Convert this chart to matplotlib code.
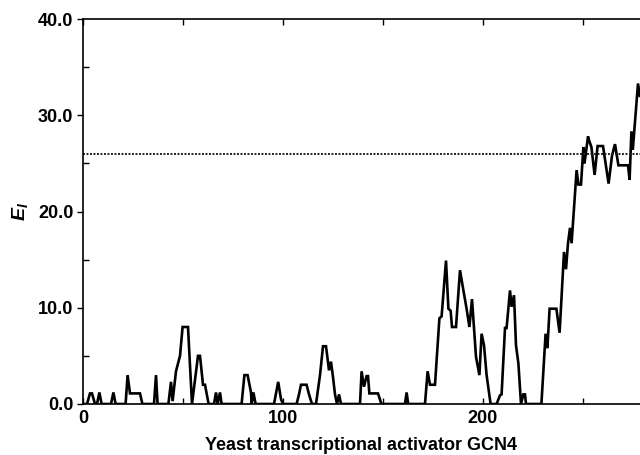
import matplotlib
matplotlib.use("Agg")
import matplotlib.pyplot as plt
from matplotlib.ticker import MultipleLocator

plt.rcParams['font.family'] = ['Liberation Sans', 'DejaVu Sans']
plt.rcParams['mathtext.fontset'] = 'custom'
plt.rcParams['mathtext.it'] = 'Liberation Sans:bold:italic'
plt.rcParams['mathtext.rm'] = 'Liberation Sans:bold'

# residue position / E_l value (vertices)
residue = [0, 2, 3.5, 4.5, 6, 7, 8.2, 9.3, 14, 15.2, 16.3, 21.3, 22.3, 23.5, 28.5, 29.7,
           35.5, 36.5, 37.3, 42.7, 44, 44.8, 46.5, 48.5, 49.8, 52.5, 54.5, 57.5, 58.5, 60,
           61, 62.8, 65.5, 66.5, 67.3, 68.5, 69.3, 79.3, 80.7, 82.3, 84, 84.3, 85.2, 86.3,
           95.5, 97.6, 99, 100, 106.8, 108, 109, 111.8, 113, 114.5, 116.5, 118.5, 120, 121.5,
           123, 124, 125, 126, 127, 128, 129, 138.5, 139.3, 140.5, 141.8, 142.5, 143.2, 147.5,
           149.2, 161, 161.8, 162.6, 171, 172.3, 173.5, 176, 178.2, 179.3, 181.5, 182.7, 183.8,
           184.5, 186.5, 188.5, 190.2, 191.8, 193.2, 194.5, 196.5, 198.2, 199.3, 200.5, 201.8,
           203.8, 206.8, 208.5, 209.3, 211, 211.8, 213.5, 214.3, 215.5, 216.5, 217.7, 219,
           220.2, 221, 221.5, 229.2, 231.3, 232.2, 233.3, 236.7, 238.3, 240.5, 241.5, 242.5,
           243.5, 244.3, 246.8, 247.7, 249, 250.2, 250.7, 251.2, 252.5, 253, 254.2, 255.8,
           257.3, 260, 262.8, 264.5, 266, 267.7, 272.5, 273.3, 274.2, 274.9, 277.5, 278.5, 280]
energy = [0, 0, 1.1, 1.1, 0, 0, 1.2, 0, 0, 1.2, 0, 0, 3, 1.1, 1.1, 0,
          0, 3, 0, 0, 2.3, 0.3, 3.4, 5, 8, 8, 0, 5, 5, 2,
          2, 0, 0, 1.2, 0, 1.2, 0, 0, 3, 3, 1.2, 0, 1.2, 0,
          0, 2.3, 0.5, 0, 0, 1, 2, 2, 1, 0, 0, 3, 6, 6,
          3.5, 4.4, 2.8, 1, 0, 1, 0, 0, 3.4, 1.8, 2.9, 2.9, 1.1, 1.1,
          0, 0, 1.2, 0, 0, 3.4, 2, 2, 8.9, 9.1, 14.9, 9.9, 9.7,
          8, 8, 13.9, 11.8, 9.9, 8, 10.9, 4.9, 3, 7.3, 6.1, 3,
          0, 0, 0.9, 1, 7.9, 7.9, 11.8, 10.1, 11.3, 6.1, 4.2, 0,
          1, 1, 0, 0, 7.3, 5.8, 9.9, 9.9, 7.4, 15.8, 14, 16.7,
          18.3, 16.7, 24.3, 22.8, 22.8, 26.7, 25, 25.7, 27.8, 27.4, 26.7, 23.8,
          26.8, 26.8, 22.9, 25.8, 27, 24.8, 24.8, 23.3, 28.3, 26.4, 33.3, 31.9, 32.5]
threshold = 26.0

fig = plt.figure(figsize=(6.4, 4.55), dpi=100)
ax = fig.add_axes([83 / 640, 51 / 455, 560 / 640, 385 / 455])

ax.plot(residue, energy, color='black', lw=1.9, solid_joinstyle='miter')
ax.axhline(threshold, color='#222222', lw=1.4, ls=(0, (1, 0.8)))

ax.set_xlim(0, 280)
ax.set_ylim(0, 40)
ax.spines['right'].set_visible(False)
for s in ['left', 'top', 'bottom']:
    ax.spines[s].set_linewidth(1.2)

ax.xaxis.set_major_locator(MultipleLocator(100))
ax.xaxis.set_minor_locator(MultipleLocator(50))
ax.yaxis.set_major_locator(MultipleLocator(10))
ax.yaxis.set_minor_locator(MultipleLocator(5))
ax.tick_params(axis='x', which='both', direction='in', top=True, length=4, width=1)
ax.tick_params(axis='y', which='major', direction='out', length=4, width=1)
ax.tick_params(axis='y', which='minor', direction='in', length=4, width=1)
ax.tick_params(labelsize=13)
ax.tick_params(axis='x', pad=4)
ax.tick_params(axis='y', pad=3)
ax.set_yticklabels([f'{v:.1f}' for v in ax.get_yticks()], fontweight='bold')
for t in ax.get_xticklabels():
    t.set_fontweight('bold')

ax.set_xlabel('Yeast transcriptional activator GCN4', fontsize=13, fontweight='bold')
ax.set_ylabel(r'$E_I$', fontsize=14, labelpad=6)
ax.xaxis.set_label_coords((361 - 83) / 560, -0.085)

fig.savefig('out.png', dpi=100)
